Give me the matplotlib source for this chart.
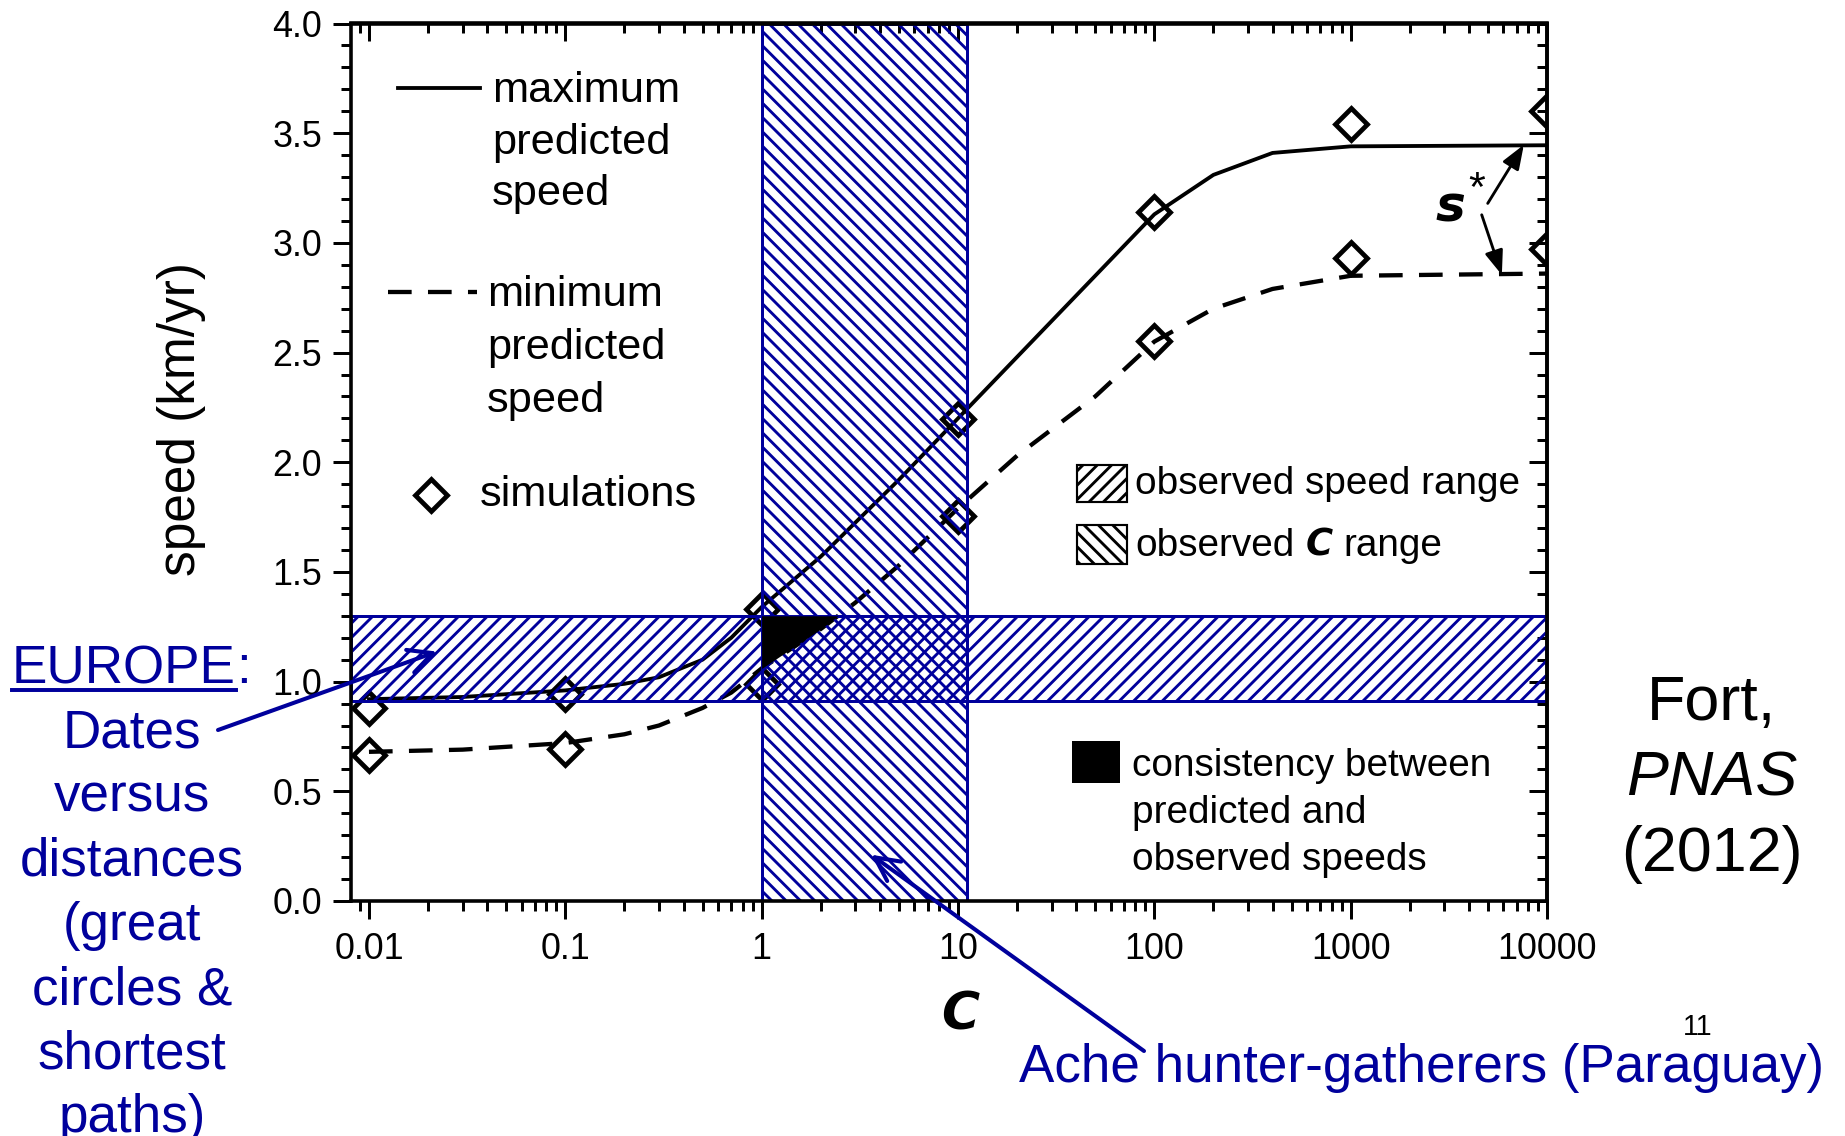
import numpy as np
import matplotlib
matplotlib.use('Agg')
import matplotlib.pyplot as plt
from matplotlib.ticker import FixedLocator, FixedFormatter, MultipleLocator, FormatStrFormatter
from matplotlib.lines import Line2D
from matplotlib.patches import Rectangle

plt.rcParams['font.family'] = ['Liberation Sans', 'DejaVu Sans']
plt.rcParams['hatch.linewidth'] = 2.4

# maximum / minimum predicted speed (km/yr) versus C
c_max = [0.01, 0.03, 0.1, 0.2, 0.3, 0.5, 0.7, 1, 2, 5, 10, 20, 50, 100, 200, 400, 1000, 10000]
s_max = [0.92, 0.93, 0.96, 0.99, 1.02, 1.10, 1.20, 1.34, 1.57, 1.92, 2.20, 2.48, 2.85, 3.13, 3.31, 3.41, 3.44, 3.445]
c_min = [0.01, 0.03, 0.1, 0.2, 0.3, 0.5, 0.7, 1, 2, 3, 5, 10, 20, 50, 100, 200, 400, 1000, 3000, 10000]
s_min = [0.68, 0.69, 0.72, 0.76, 0.80, 0.88, 0.95, 1.06, 1.24, 1.36, 1.53, 1.79, 2.03, 2.30, 2.55, 2.70, 2.79, 2.85, 2.855, 2.86]

# simulations
c_sim = [0.01, 0.1, 1, 10, 100, 1000, 10000]
sim_hi = [0.88, 0.945, 1.33, 2.195, 3.14, 3.54, 3.60]
sim_lo = [0.667, 0.693, 0.99, 1.756, 2.553, 2.93, 2.97]

# observed ranges
speed_obs = [0.91, 1.30]
c_obs = [1, 11.1]

x_ticks = [0.01, 0.1, 1, 10, 100, 1000, 10000]
x_labels = ['0.01', '0.1', '1', '10', '100', '1000', '10000']

BLUE = '#00009C'
W, H = 1845, 1136
DPI = 86

fig = plt.figure(figsize=(W / DPI, H / DPI), dpi=DPI)
ax = fig.add_axes([351 / W, 1 - 901 / H, 1196 / W, 877.5 / H])
ax.set_xscale('log')
ax.set_xlim(0.0081, 10000)
ax.set_ylim(0, 4)

# curves and simulations
ax.plot(c_max, s_max, color='black', lw=3.2, zorder=1)
ax.plot(c_min, s_min, color='black', lw=3.6, dashes=(5.5, 3.8), zorder=1)
for sim in (sim_hi, sim_lo):
    ax.plot(c_sim, sim, 'D', ms=19, mfc='none', mec='black', mew=4, zorder=1.5)

# observed ranges (hatched)
ax.axvspan(c_obs[0], c_obs[1], facecolor='none', edgecolor=BLUE, hatch='\\\\', lw=2.5, zorder=2)
ax.axhspan(speed_obs[0], speed_obs[1], facecolor='none', edgecolor=BLUE, hatch='//', lw=2.5, zorder=2)

# consistency region: inside both ranges and between min and max predictions
cf = np.logspace(np.log10(c_obs[0]), np.log10(c_obs[1]), 500)
lo = np.maximum(speed_obs[0], np.interp(np.log10(cf), np.log10(c_min), s_min))
hi = np.minimum(speed_obs[1], np.interp(np.log10(cf), np.log10(c_max), s_max))
ax.fill_between(cf, lo, hi, where=lo < hi, color='black', lw=0, zorder=3, interpolate=True)

# axes styling
for sp in ax.spines.values():
    sp.set_linewidth(3)
ax.xaxis.set_major_locator(FixedLocator(x_ticks))
ax.xaxis.set_major_formatter(FixedFormatter(x_labels))
ax.yaxis.set_major_locator(MultipleLocator(0.5))
ax.yaxis.set_minor_locator(MultipleLocator(0.1))
ax.yaxis.set_major_formatter(FormatStrFormatter('%.1f'))
ax.tick_params(which='both', direction='out', width=2.5, labelsize=30)
ax.tick_params(which='major', length=15)
ax.tick_params(which='minor', length=8.4)
ax.tick_params(axis='x', pad=11)
ax.tick_params(axis='y', pad=9)

secx = ax.secondary_xaxis('top')
secx.tick_params(which='both', direction='in', width=2.5, labeltop=False)
secx.tick_params(which='major', length=15)
secx.tick_params(which='minor', length=8.4)
secx.spines['top'].set_linewidth(3)
secy = ax.secondary_yaxis('right')
secy.yaxis.set_major_locator(MultipleLocator(0.5))
secy.yaxis.set_minor_locator(MultipleLocator(0.1))
secy.tick_params(which='both', direction='in', width=2.5, labelright=False)
secy.tick_params(which='major', length=15)
secy.tick_params(which='minor', length=8.4)
secy.spines['right'].set_linewidth(3)

ax.set_ylabel('speed (km/yr)', fontsize=43, va='center')
ax.yaxis.set_label_coords(-0.142, 0.549)
ax.set_xlabel('C', fontsize=43.5, family='DejaVu Sans', weight='bold', style='oblique', va='center')
ax.xaxis.set_label_coords(0.509, -0.130)

# legend, top left
ax.plot([0.039, 0.108], [0.9265, 0.9265], transform=ax.transAxes, color='black', lw=3.2)
ax.text(0.118, 0.864, 'maximum\npredicted\nspeed', transform=ax.transAxes,
        ha='left', va='center', fontsize=36.3, linespacing=1.37)
ax.plot([0.031, 0.105], [0.694, 0.694], transform=ax.transAxes, color='black', lw=3.6, dashes=(5.5, 3.8))
ax.text(0.1137, 0.630, 'minimum\npredicted\nspeed', transform=ax.transAxes,
        ha='left', va='center', fontsize=36.3, linespacing=1.41)
ax.plot([0.0669], [0.4627], 'D', transform=ax.transAxes, ms=19, mfc='none', mec='black', mew=4)
ax.text(0.108, 0.4627, 'simulations', transform=ax.transAxes, ha='left', va='center', fontsize=36.3)

# legend, right
ax.add_patch(Rectangle((0.607, 0.4547), 0.042, 0.0422, transform=ax.transAxes, facecolor='white',
                       edgecolor='black', hatch='//', lw=1.8, zorder=4))
ax.text(0.6555, 0.4752, 'observed speed range', transform=ax.transAxes, ha='left', va='center', fontsize=32.4)
ax.add_patch(Rectangle((0.607, 0.384), 0.042, 0.0445, transform=ax.transAxes, facecolor='white',
                       edgecolor='black', hatch='\\\\', lw=1.8, zorder=4))
ax.add_patch(Rectangle((0.6028, 0.1345), 0.0401, 0.0478, transform=ax.transAxes,
                       facecolor='black', edgecolor='none', zorder=4))
ax.text(0.653, 0.1005, 'consistency between\npredicted and\nobserved speeds', transform=ax.transAxes,
        ha='left', va='center', fontsize=32.4, linespacing=1.4)

renderer = fig.canvas.get_renderer()


def text_row(x_px, base_px, pieces, gap=0.0):
    x = x_px
    boxes = []
    for s, kw in pieces:
        t = fig.text(x / W, 1 - base_px / H, s, ha='left', va='baseline', **kw)
        bb = t.get_window_extent(renderer)
        boxes.append(bb)
        x = bb.x1 + gap
    return boxes


text_row(1135, 556, [('observed', dict(fontsize=32.4)),
                     ('C', dict(fontsize=31, family='DejaVu Sans', weight='bold', style='oblique')),
                     ('range', dict(fontsize=32.4))], gap=11)

# s* annotation
ax.text(3240, 3.16, 's', fontsize=42, family='DejaVu Sans', weight='bold', style='oblique',
        ha='center', va='center')
ax.text(4400, 3.24, '*', fontsize=36, ha='center', va='center')
sarrow = dict(arrowstyle='-|>,head_length=0.45,head_width=0.17', color='black', lw=2.4,
              mutation_scale=38, shrinkA=0, shrinkB=0)
ax.annotate('', xy=(7620, 3.447), xytext=(4990, 3.18), arrowprops=sarrow)
ax.annotate('', xy=(5890, 2.854), xytext=(4650, 3.128), arrowprops=sarrow)

# Europe annotation
eu = text_row(12, 683, [('EUROPE', dict(fontsize=44.4, color=BLUE)),
                        (':', dict(fontsize=44.4, color=BLUE))])
fig.add_artist(Line2D([eu[0].x0 / W, eu[0].x1 / W], [1 - 690 / H] * 2, transform=fig.transFigure,
                      color=BLUE, lw=3.3))
fig.text(132 / W, 1 - 926 / H, 'Dates\nversus\ndistances\n(great\ncircles &\nshortest\npaths)',
         ha='center', va='center', multialignment='center', fontsize=44.4, color=BLUE, linespacing=1.36)
barrow = dict(arrowstyle='->', color=BLUE, lw=3.4, mutation_scale=50, shrinkA=0, shrinkB=0)
ax.annotate('', xy=(0.0222, 1.137), xytext=(218 / W, 1 - 730 / H), textcoords='figure fraction',
            arrowprops=barrow, annotation_clip=False)

# Ache annotation
fig.text(1019 / W, 1 - 1068 / H, 'Ache hunter-gatherers (Paraguay)', ha='left', va='center',
         fontsize=44.4, color=BLUE)
ax.annotate('', xy=(3.61, 0.211), xytext=(1144 / W, 1 - 1051 / H), textcoords='figure fraction',
            arrowprops=barrow, annotation_clip=False)

# reference
fig.text(1712 / W, 1 - 704 / H, 'Fort,', ha='center', va='center', fontsize=52.7)
fig.text(1712 / W, 1 - 779 / H, 'PNAS', ha='center', va='center', fontsize=52.7, style='italic')
fig.text(1712 / W, 1 - 855 / H, '(2012)', ha='center', va='center', fontsize=52.7)
fig.text(1698 / W, 1 - 1027 / H, '11', ha='center', va='center', fontsize=24)

fig.savefig('out.png', dpi=DPI)
